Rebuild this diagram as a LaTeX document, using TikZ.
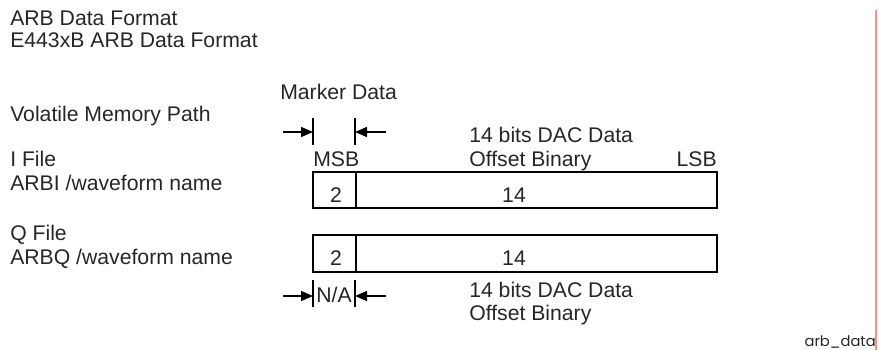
\documentclass[tikz,border=0pt]{standalone}
\usepackage{fontspec}
\setmainfont{Liberation Sans}
\newfontfamily\tagfont{Poppins}
\usetikzlibrary{arrows.meta}
\definecolor{edgered}{HTML}{FF8C8C}
\definecolor{inkgray}{HTML}{262626}
\begin{document}
\begin{tikzpicture}[x=0.75pt,y=-0.75pt,
  lbl/.style={inner sep=0pt,anchor=base west,text=inkgray,font=\fontsize{15.9}{18}\selectfont},
  lblc/.style={inner sep=0pt,anchor=base,text=inkgray,font=\fontsize{15.9}{18}\selectfont},
  field/.style={draw=black,line width=1.7pt},
  tick/.style={line width=1.1pt},
  dimarrow/.style={line width=1.1pt,-{Triangle[length=9pt,width=7.5pt]}}]
\useasboundingbox (0,0) rectangle (879,350);
% left column labels
\node[lbl] (t1) at (10,25) {ARB Data Format};
\node[lbl] (t2) at (10,47) {E443xB ARB Data Format};
\node[lbl] (t3) at (10,121) {Volatile Memory Path};
\node[lbl] (t4) at (10,166) {I File};
\node[lbl] (t5) at (10,190) {ARBI /waveform name};
\node[lbl] (t6) at (10,240) {Q File};
\node[lbl] (t7) at (10,264) {ARBQ /waveform name};
% top labels
\node[lbl] (mk) at (280,99) {Marker Data};
\node[lbl] (dac1) at (469,142) {14 bits DAC Data};
\node[lbl] (ob1) at (469,166) {Offset Binary};
\node[lbl] (msb) at (313,166) {MSB};
\node[lbl,anchor=base east] (lsb) at (717,166) {LSB};
% marker dimension (top)
\coordinate (a1) at (313,118); \coordinate (a2) at (313,145);
\coordinate (b1) at (355,118); \coordinate (b2) at (355,145);
\coordinate (a0) at (283,132); \coordinate (at) at (313,132);
\coordinate (b0) at (386,132); \coordinate (bt) at (355,132);
\draw[tick] (a1) -- (a2);
\draw[tick] (b1) -- (b2);
\draw[dimarrow] (a0) -- (at);
\draw[dimarrow] (b0) -- (bt);
% I field
\draw[field] (313,172) rectangle (717,208);
\draw[field] (356,172) -- (356,208);
\node[lblc] (i2) at (336,202) {2};
\node[lblc] (i14) at (514,202) {14};
% Q field
\draw[field] (313,235) rectangle (717,272);
\draw[field] (356,235) -- (356,272);
\node[lblc] (q2) at (336,265) {2};
\node[lblc] (q14) at (514,265) {14};
% N/A dimension (bottom)
\coordinate (c1) at (313,280); \coordinate (c2) at (313,307);
\coordinate (d1) at (355,280); \coordinate (d2) at (355,307);
\coordinate (c0) at (283,296); \coordinate (ct) at (313,296);
\coordinate (d0) at (386,296); \coordinate (dt) at (355,296);
\draw[tick] (c1) -- (c2);
\draw[tick] (d1) -- (d2);
\draw[dimarrow] (c0) -- (ct);
\draw[dimarrow] (d0) -- (dt);
\node[lblc] (na) at (334,302) {N/A};
\node[lbl] (dac2) at (469,297) {14 bits DAC Data};
\node[lbl] (ob2) at (469,320) {Offset Binary};
% tag and border line
\node[inner sep=0pt,anchor=base east,text=inkgray,font=\tagfont\fontsize{11}{12}\selectfont] (tag) at (876,346) {arb\_data};
\coordinate (r1) at (876,10); \coordinate (r2) at (876,350);
\draw[edgered,line width=0.9pt] (r1) -- (r2);
\end{tikzpicture}
\end{document}
